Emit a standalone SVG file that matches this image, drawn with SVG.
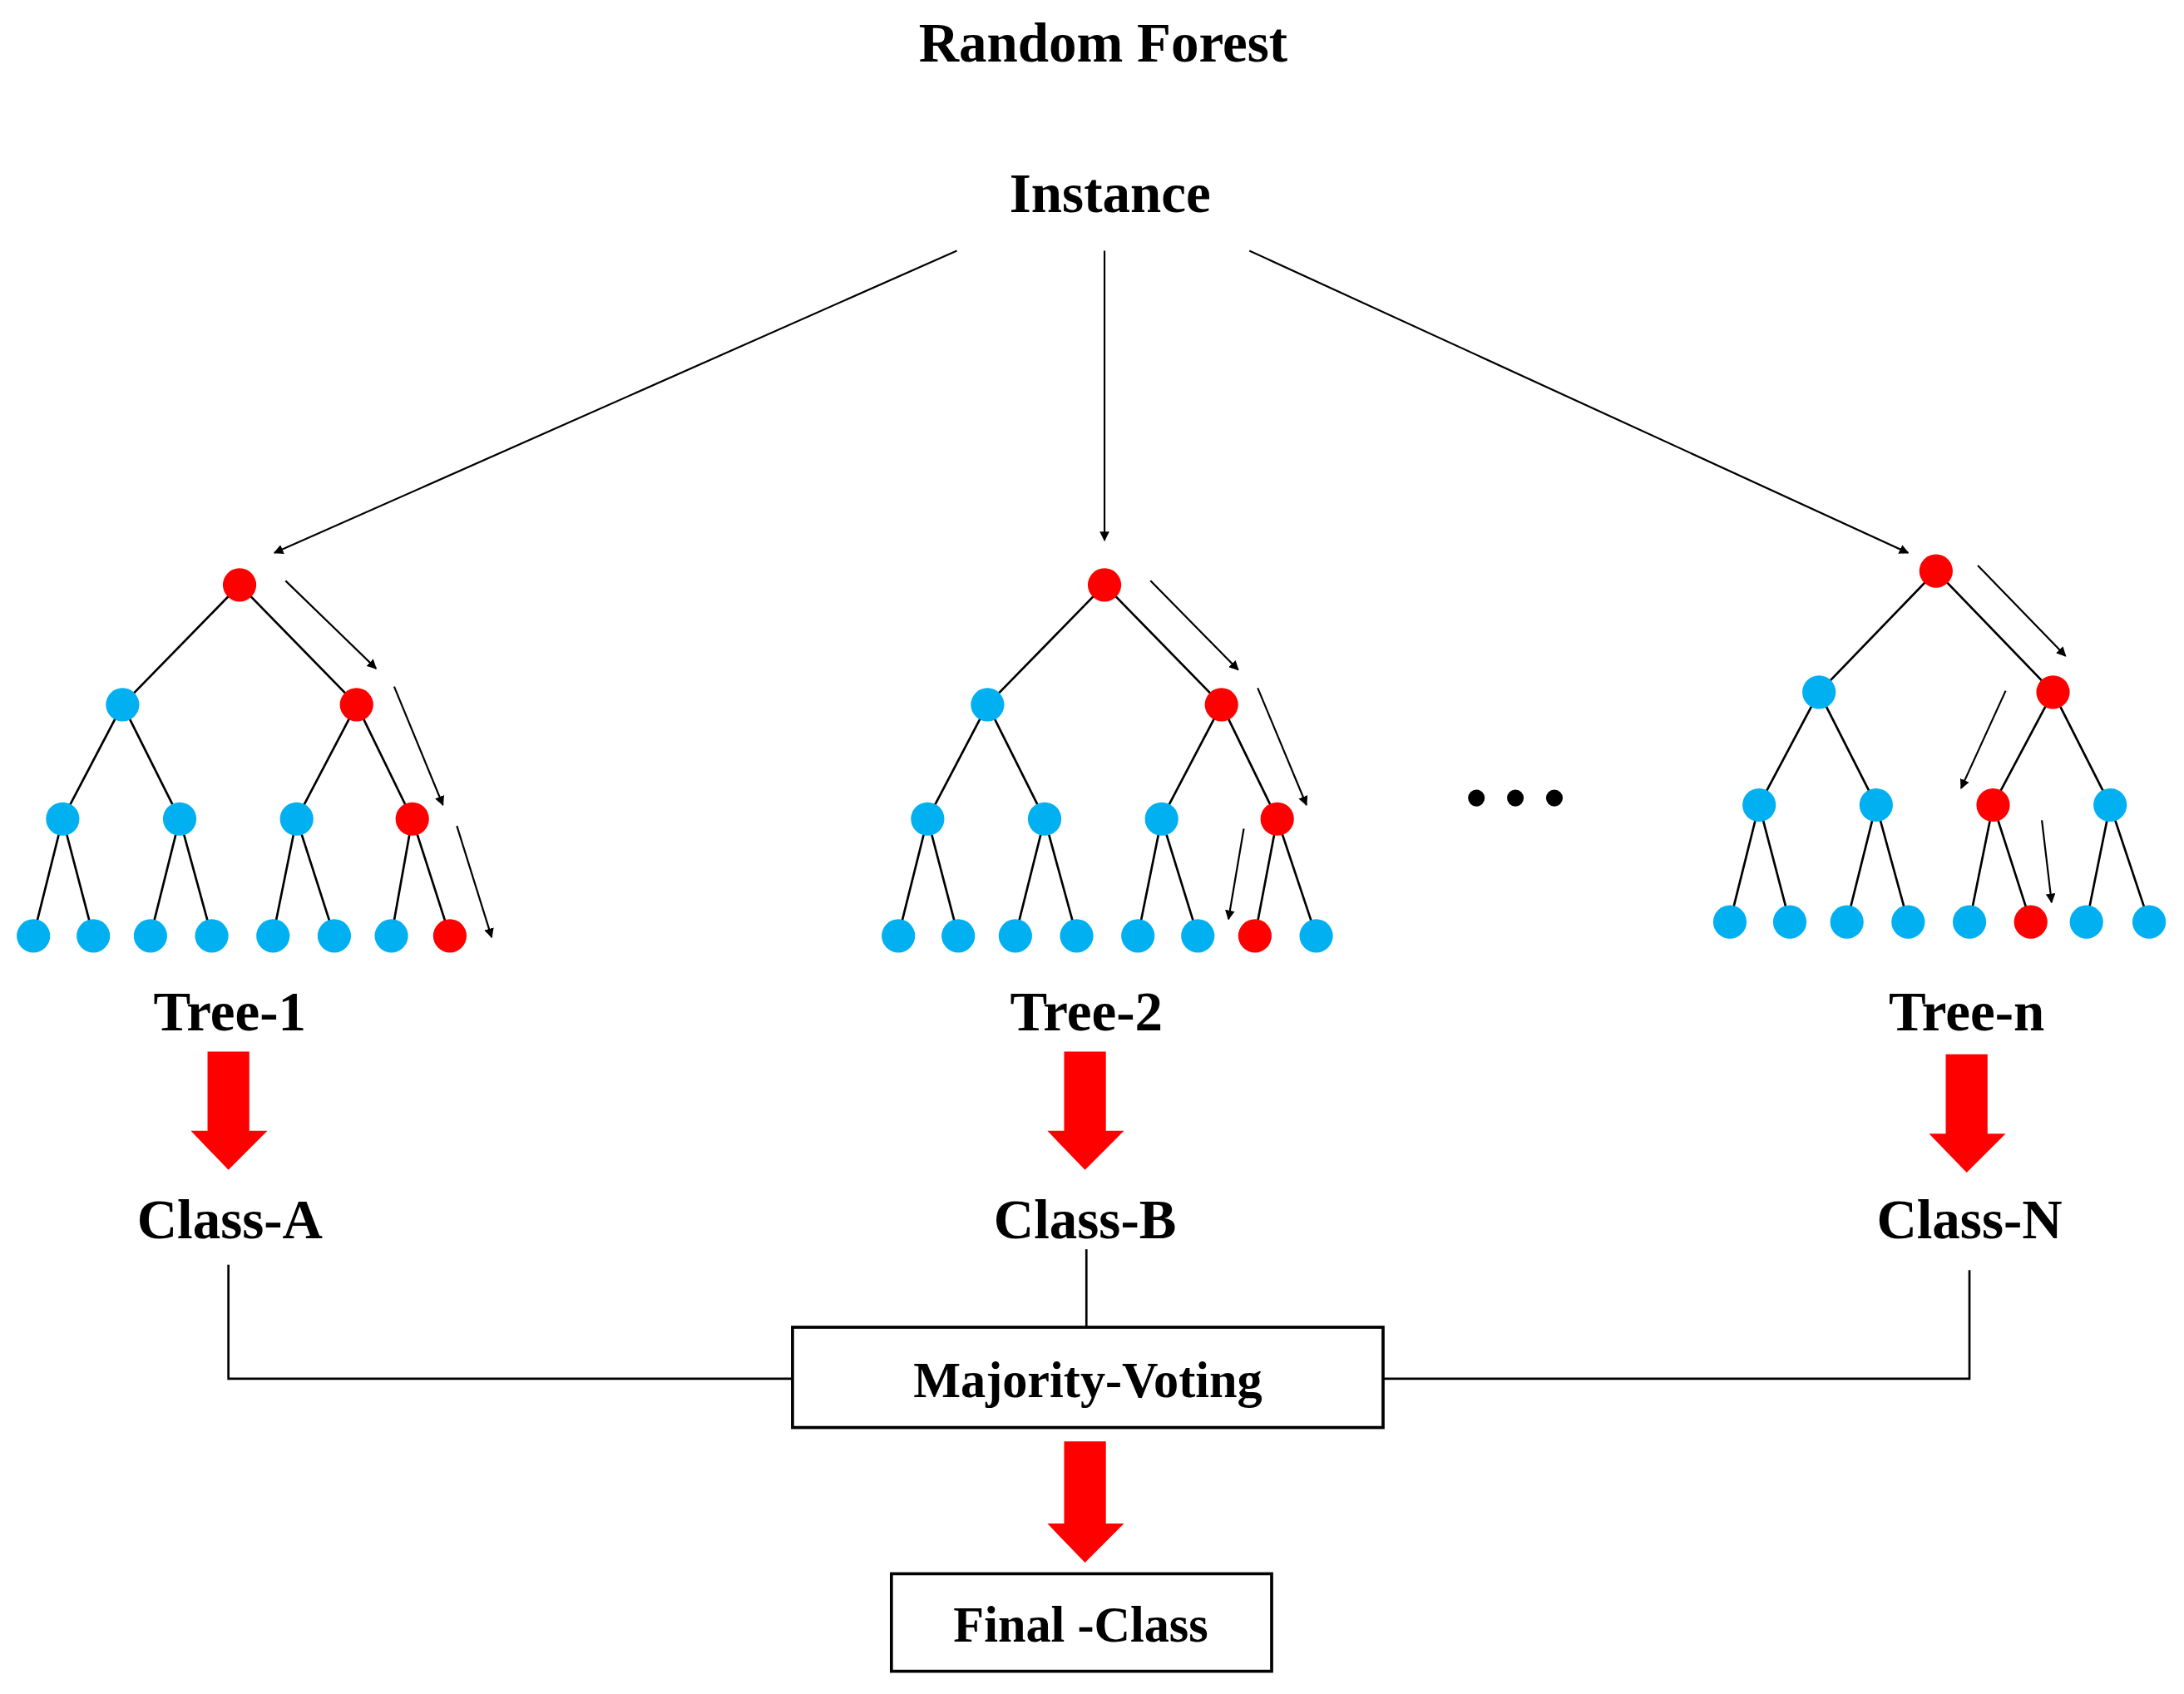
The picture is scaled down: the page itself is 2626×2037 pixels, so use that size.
<svg xmlns="http://www.w3.org/2000/svg" width="2626" height="2037" viewBox="0 0 2626 2037">
<defs>
<marker id="ah" viewBox="0 0 10 10" refX="9" refY="5" markerWidth="7" markerHeight="7" markerUnits="userSpaceOnUse" orient="auto"><path d="M0,0 L10,5 L0,10 z" fill="#000"/></marker>
<style>
text{font-family:"Liberation Serif",serif;font-weight:bold;fill:#000;text-anchor:middle}
.e{stroke:#000;stroke-width:1.6;fill:none}
.a{stroke:#000;stroke-width:1.3;fill:none;marker-end:url(#ah)}
.b{fill:#00b0f0}.r{fill:#ff0000}
.big{fill:#ff0000}
</style>
</defs>
<rect width="2626" height="2037" fill="#fff"/>
<g transform="scale(1.6747)">
<text x="792" y="44" font-size="40">Random Forest</text>
<g id="instance"><text x="797" y="152" font-size="40">Instance</text></g>
<g id="connectors">
<line class="a" x1="687" y1="180" x2="197" y2="397"/>
<line class="a" x1="793" y1="180" x2="793" y2="388"/>
<line class="a" x1="897" y1="180" x2="1370" y2="397"/>
<path class="e" d="M164,908 V990 H569"/>
<path class="e" d="M780,897 V953"/>
<path class="e" d="M1414,912 V990 H993" stroke-width="2.4"/>
</g>
<g id="tree1">
<g class="e"><path d="M172,420 L88,506 M172,420 L256,506 M88,506 L45,588 M88,506 L129,588 M256,506 L213,588 M256,506 L296,588 M45,588 L24,672 M45,588 L67,672 M129,588 L108,672 M129,588 L152,672 M213,588 L196,672 M213,588 L240,672 M296,588 L281,672 M296,588 L323,672"/></g>
<g class="b"><circle cx="88" cy="506" r="12"/><circle cx="45" cy="588" r="12"/><circle cx="129" cy="588" r="12"/><circle cx="213" cy="588" r="12"/><circle cx="24" cy="672" r="12"/><circle cx="67" cy="672" r="12"/><circle cx="108" cy="672" r="12"/><circle cx="152" cy="672" r="12"/><circle cx="196" cy="672" r="12"/><circle cx="240" cy="672" r="12"/><circle cx="281" cy="672" r="12"/></g>
<g class="r"><circle cx="172" cy="420" r="12"/><circle cx="256" cy="506" r="12"/><circle cx="296" cy="588" r="12"/><circle cx="323" cy="672" r="12"/></g>
<line class="a" x1="205" y1="417" x2="270" y2="480"/><line class="a" x1="283" y1="493" x2="318" y2="578"/><line class="a" x1="328" y1="593" x2="353" y2="673"/>
<text x="165" y="740" font-size="40">Tree-1</text>
</g>
<g id="tree2">
<g class="e"><path d="M793,420 L709,506 M793,420 L877,506 M709,506 L666,588 M709,506 L750,588 M877,506 L834,588 M877,506 L917,588 M666,588 L645,672 M666,588 L688,672 M750,588 L729,672 M750,588 L773,672 M834,588 L817,672 M834,588 L860,672 M917,588 L901,672 M917,588 L945,672"/></g>
<g class="b"><circle cx="709" cy="506" r="12"/><circle cx="666" cy="588" r="12"/><circle cx="750" cy="588" r="12"/><circle cx="834" cy="588" r="12"/><circle cx="645" cy="672" r="12"/><circle cx="688" cy="672" r="12"/><circle cx="729" cy="672" r="12"/><circle cx="773" cy="672" r="12"/><circle cx="817" cy="672" r="12"/><circle cx="860" cy="672" r="12"/><circle cx="945" cy="672" r="12"/></g>
<g class="r"><circle cx="793" cy="420" r="12"/><circle cx="877" cy="506" r="12"/><circle cx="917" cy="588" r="12"/><circle cx="901" cy="672" r="12"/></g>
<line class="a" x1="826" y1="417" x2="889" y2="481"/><line class="a" x1="903" y1="494" x2="938" y2="578"/><line class="a" x1="893" y1="595" x2="882" y2="660"/>
<text x="780" y="740" font-size="40">Tree-2</text>
</g>
<g id="dots" fill="#000"><circle cx="1060" cy="573" r="6"/><circle cx="1088" cy="573" r="6"/><circle cx="1116" cy="573" r="6"/></g>
<g id="treen">
<g class="e"><path d="M1390,410 L1306,497 M1390,410 L1474,497 M1306,497 L1263,578 M1306,497 L1347,578 M1474,497 L1431,578 M1474,497 L1515,578 M1263,578 L1242,662 M1263,578 L1285,662 M1347,578 L1326,662 M1347,578 L1370,662 M1431,578 L1414,662 M1431,578 L1458,662 M1515,578 L1498,662 M1515,578 L1543,662"/></g>
<g class="b"><circle cx="1306" cy="497" r="12"/><circle cx="1263" cy="578" r="12"/><circle cx="1347" cy="578" r="12"/><circle cx="1515" cy="578" r="12"/><circle cx="1242" cy="662" r="12"/><circle cx="1285" cy="662" r="12"/><circle cx="1326" cy="662" r="12"/><circle cx="1370" cy="662" r="12"/><circle cx="1414" cy="662" r="12"/><circle cx="1498" cy="662" r="12"/><circle cx="1543" cy="662" r="12"/></g>
<g class="r"><circle cx="1390" cy="410" r="12"/><circle cx="1474" cy="497" r="12"/><circle cx="1431" cy="578" r="12"/><circle cx="1458" cy="662" r="12"/></g>
<line class="a" x1="1420" y1="406" x2="1483" y2="471"/><line class="a" x1="1440" y1="496" x2="1408" y2="566"/><line class="a" x1="1466" y1="589" x2="1473" y2="648"/>
<text x="1412" y="740" font-size="40">Tree-n</text>
</g>
<g id="redarrows" class="big">
<path d="M149,755 H179 V812 H192 L164,840 L137,812 H149 Z"/>
<path d="M764,755 H794 V812 H807 L779,840 L752,812 H764 Z"/>
<path d="M1397,757 H1427 V814 H1440 L1412,842 L1385,814 H1397 Z"/>
<path d="M764,1035 H794 V1094 H807 L779,1122 L752,1094 H764 Z"/>
</g>
<g id="classA"><text x="165" y="889" font-size="40">Class-A</text></g>
<g id="classB"><text x="779" y="889" font-size="40">Class-B</text></g>
<g id="classN"><text x="1414" y="889" font-size="40">Class-N</text></g>
<g id="voting"><rect x="569" y="953" width="424" height="72" fill="#fff" stroke="#000" stroke-width="2.2"/><text x="781" y="1003" font-size="36">Majority-Voting</text></g>
<g id="final"><rect x="640" y="1130" width="273" height="70" fill="#fff" stroke="#000" stroke-width="2.2"/><text x="776" y="1179" font-size="36">Final -Class</text></g>
</g>
</svg>
